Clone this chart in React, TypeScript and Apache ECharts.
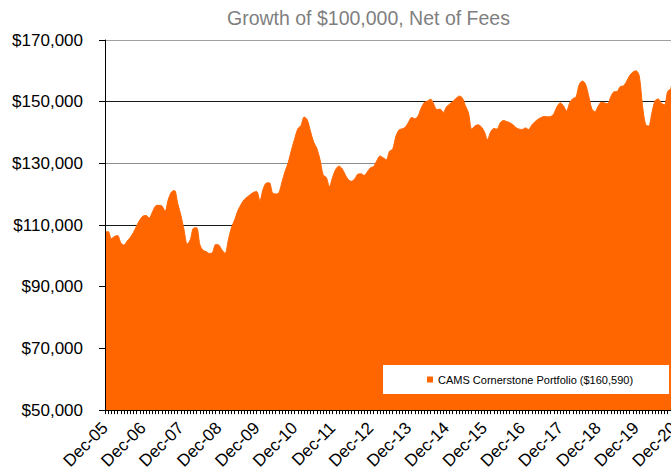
import React, { useEffect, useRef } from "react";
import * as echarts from "echarts";

const TITLE = "Growth of $100,000, Net of Fees";
const SERIES_NAME = "CAMS Cornerstone Portfolio ($160,590)";
const MONTHS = ["Jan", "Feb", "Mar", "Apr", "May", "Jun", "Jul", "Aug", "Sep", "Oct", "Nov", "Dec"];

// Month-end categories from Dec-05 to Dec-20
const categories: string[] = [];
for (let i = 0; i <= 180; i++) {
  const m = (11 + i) % 12;
  const y = 2005 + Math.floor((11 + i) / 12);
  categories.push(`${MONTHS[m]}-${String(y % 100).padStart(2, "0")}`);
}

// Portfolio value ($)
const portfolioValues = [
  107700, 107900, 105600, 106300, 106600, 104300, 103500, 104800, 106000, 107600,
  109700, 111600, 112900, 113100, 112300, 114200, 116200, 116400, 116200, 114500,
  118200, 120700, 121200, 117000, 113200, 108500, 103800, 105300, 109000, 109100,
  103700, 101800, 101400, 100800, 101100, 103700, 103500, 101900, 100800, 105100,
  109200, 111600, 114600, 116600, 118200, 119100, 119900, 120600, 120900, 117900,
  121600, 123600, 123700, 120400, 120100, 120500, 124000, 127500, 130400, 134400,
  138000, 141200, 142300, 145000, 144100, 140400, 136900, 134900, 131300, 126300,
  125400, 122500, 125500, 128100, 129100, 128300, 126300, 124700, 124200, 125000,
  126500, 126600, 126100, 127300, 128600, 129000, 130900, 132400, 131800, 131200,
  133900, 134600, 138700, 140800, 141200, 141700, 143300, 144900, 144500, 145300,
  147900, 149700, 150200, 150800, 149200, 147400, 147600, 146500, 148300, 149200,
  150000, 151000, 151800, 151300, 148700, 146300, 141100, 142100, 142500, 141900,
  140300, 137700, 140200, 141300, 141100, 143100, 143900, 143600, 143200, 142600,
  141600, 141100, 141000, 141500, 141000, 142400, 143500, 144300, 144900, 145200,
  145100, 145200, 146100, 148400, 149600, 148700, 147000, 149600, 151000, 151500,
  155500, 156700, 155700, 151900, 147700, 146700, 148500, 149800, 149600, 149400,
  151600, 153200, 153300, 154900, 155100, 156600, 158500, 159600, 160000, 158400,
  149000, 142600, 142100, 146300, 150300, 150900, 149500, 149000, 153300, 154300,
  160590,
];

const Y_MIN = 50000;
const Y_MAX = 170000;
const Y_STEP = 20000;

const FONT = "'Liberation Sans', Arial, sans-serif";
const ORANGE = "#FF6600";

export default function App() {
  const ref = useRef<HTMLDivElement>(null);

  useEffect(() => {
    if (!ref.current) return;
    const chart = echarts.init(ref.current, null, { renderer: "svg" });
    const fmt = (v: number) => "$" + v.toLocaleString("en-US");
    chart.setOption({
      animation: false,
      backgroundColor: "#fff",
      textStyle: { fontFamily: FONT },
      title: {
        text: TITLE,
        left: 227,
        top: 8,
        padding: 0,
        textStyle: { fontFamily: FONT, fontSize: 19.5, fontWeight: "normal", color: "#7f7f7f" },
      },
      legend: {
        data: [SERIES_NAME],
        left: 383,
        top: 365,
        backgroundColor: "#ffffff",
        padding: [8, 36, 8, 44],
        icon: "rect",
        itemWidth: 6,
        itemHeight: 6,
        textStyle: { fontFamily: FONT, fontSize: 11, color: "#000", lineHeight: 13 },
      },
      grid: { left: 105, right: 26, top: 40, bottom: 61, containLabel: false },
      xAxis: {
        type: "category",
        data: categories,
        boundaryGap: false,
        z: 5,
        axisLine: { show: true, lineStyle: { color: "#000", width: 1 } },
        axisTick: { show: true, interval: 0, length: 4, lineStyle: { color: "#000", width: 1 } },
        axisLabel: {
          interval: 11,
          rotate: 45,
          margin: 15,
          fontFamily: FONT,
          fontSize: 17,
          color: "#000",
        },
        splitLine: { show: false },
      },
      yAxis: [
        {
          type: "value",
          min: Y_MIN,
          max: Y_MAX,
          interval: Y_STEP,
          position: "left",
          z: 0,
          axisLine: { show: false },
          axisTick: { show: false },
          axisLabel: { show: false },
          splitLine: {
            show: true,
            lineStyle: {
              color: ["#000", "#000", "#000", "#1a1a1a", "#8c8c8c", "#1a1a1a", "#a0a0a0"],
              width: 1,
            },
          },
        },
        {
          type: "value",
          min: Y_MIN,
          max: Y_MAX,
          interval: Y_STEP,
          position: "left",
          offset: 0,
          z: 5,
          axisLine: { show: true, lineStyle: { color: "#000", width: 1 } },
          axisTick: { show: true, length: 6, lineStyle: { color: "#000" } },
          axisLabel: {
            margin: 22,
            fontFamily: FONT,
            fontSize: 17,
            color: "#000",
            formatter: fmt,
          },
          splitLine: { show: false },
        },
      ],
      series: [
        {
          name: SERIES_NAME,
          type: "line",
          yAxisIndex: 0,
          data: portfolioValues,
          smooth: 0.3,
          showSymbol: false,
          symbol: "none",
          itemStyle: { color: ORANGE },
          lineStyle: { color: ORANGE, width: 1 },
          areaStyle: { color: ORANGE, opacity: 1 },
          z: 2,
        },
      ],
    });
    return () => chart.dispose();
  }, []);

  return (
    <div style={{ position: "fixed", left: 0, top: 0, width: 671, height: 472, overflow: "hidden", background: "#fff" }}>
      <div ref={ref} style={{ width: 700, height: 472 }} />
    </div>
  );
}
